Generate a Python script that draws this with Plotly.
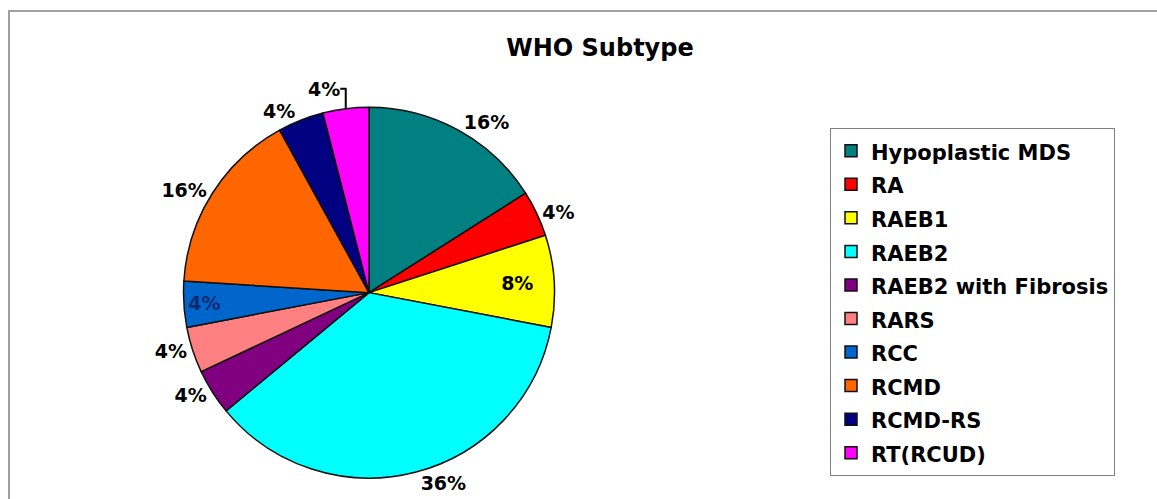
import plotly.graph_objects as go

# ---- data ----
categories = ["Hypoplastic MDS", "RA", "RAEB1", "RAEB2", "RAEB2 with Fibrosis",
              "RARS", "RCC", "RCMD", "RCMD-RS", "RT(RCUD)"]
percent_values = [16, 4, 8, 36, 4, 4, 4, 16, 4, 4]
slice_colors = ["#008080", "#FF0000", "#FFFF00", "#00FFFF", "#800080",
                "#FF8080", "#0066CC", "#FF6600", "#000080", "#FF00FF"]
text_positions = ["outside", "outside", "inside", "outside", "outside",
                  "outside", "inside", "outside", "outside", "outside"]
text_colors = ["black", "black", "black", "black", "black",
               "black", "#102a70", "black", "black", "black"]
chart_title = "WHO Subtype"

W, H = 1157, 499
cx, cy, R = 369, 295, 187  # pie centre / radius in pixels (from top-left)

legend_labels = ['<span style="font-size:21px">%s</span>' % c for c in categories]

fig = go.Figure(go.Pie(
    labels=legend_labels,
    values=percent_values,
    sort=False,
    direction="clockwise",
    rotation=0,
    marker=dict(colors=slice_colors, line=dict(color="#111111", width=1.5)),
    texttemplate="%{percent:.0%}",
    textposition=text_positions,
    insidetextorientation="horizontal",
    textfont=dict(family="DejaVu Sans", size=19, color=text_colors, weight="bold"),
    outsidetextfont=dict(family="DejaVu Sans", size=19, color="black", weight="bold"),
    insidetextfont=dict(family="DejaVu Sans", size=19, color=text_colors, weight="bold"),
    hoverinfo="percent",
    domain=dict(x=[(cx - R) / W, (cx + R) / W],
                y=[(H - cy - R) / H, (H - cy + R) / H]),
))

fig.update_layout(
    width=W, height=H,
    margin=dict(l=0, r=0, t=0, b=0),
    paper_bgcolor="white",
    plot_bgcolor="white",
    title=dict(text="<b>%s</b>" % chart_title, x=600 / W, y=(H - 48) / H,
               xanchor="center", yanchor="middle",
               font=dict(family="DejaVu Sans", size=24, color="black")),
    legend=dict(x=830 / W, y=(H - 129) / H, xanchor="left", yanchor="top",
                bordercolor="#808080", borderwidth=1, bgcolor="white",
                font=dict(family="DejaVu Sans", size=23.5, color="black", weight="bold")),
    shapes=[dict(type="rect", xref="paper", yref="paper",
                 x0=9 / W, x1=1.02, y0=-0.02, y1=(H - 11) / H,
                 line=dict(color="#a0a0a0", width=2), layer="below")],
)

fig.write_html("out.html")
